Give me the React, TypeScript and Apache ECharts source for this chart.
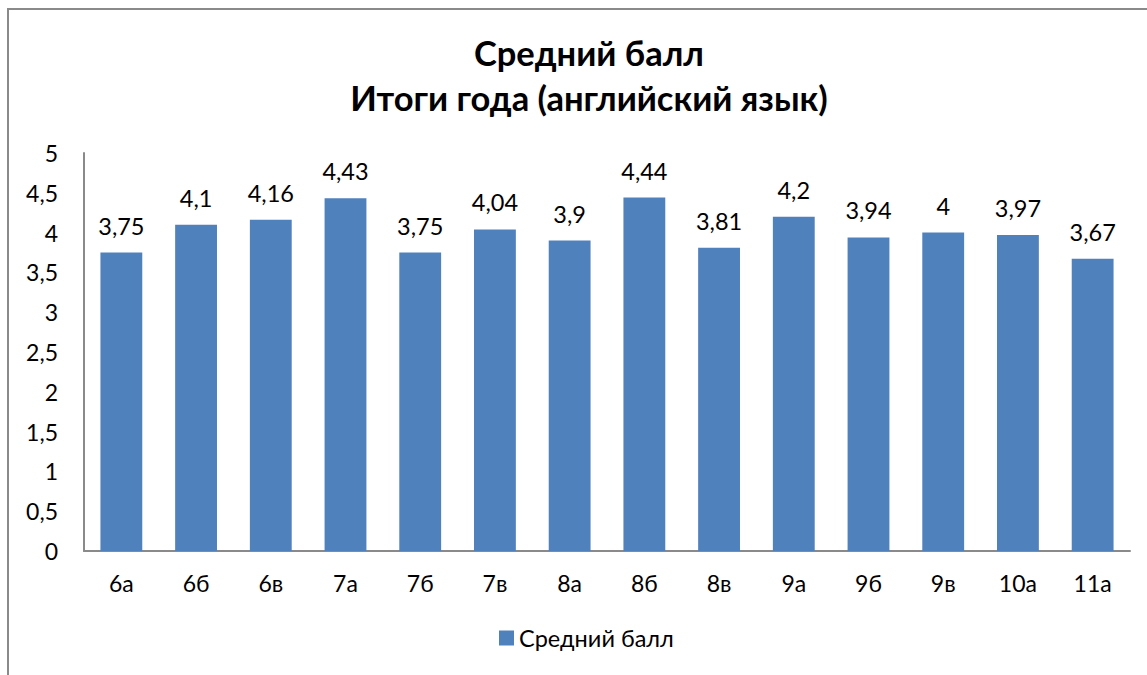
import React, { useEffect, useRef } from "react";
import * as echarts from "echarts";

const categories = ["6а", "6б", "6в", "7а", "7б", "7в", "8а", "8б", "8в", "9а", "9б", "9в", "10а", "11а"];
const values = [3.75, 4.1, 4.16, 4.43, 3.75, 4.04, 3.9, 4.44, 3.81, 4.2, 3.94, 4, 3.97, 3.67];
const seriesName = "Средний балл";
const titleLines = ["Средний балл", "Итоги года (английский язык)"];

const FONT = "Lato, 'Open Sans', 'Noto Sans', sans-serif";
const comma = (v: number) => String(v).replace(".", ",");

export default function App() {
  const ref = useRef<HTMLDivElement>(null);
  useEffect(() => {
    if (!ref.current) return;
    const chart = echarts.init(ref.current, undefined, { renderer: "svg" });
    chart.setOption({
      animation: false,
      backgroundColor: "#ffffff",
      textStyle: { fontFamily: FONT },
      title: {
        text: titleLines.join("\n"),
        left: 584,
        textAlign: "center",
        top: 25,
        textStyle: { fontFamily: FONT, fontSize: 34.5, fontWeight: "bold", color: "#000", lineHeight: 45 },
      },
      graphic: [
        {
          type: "rect",
          silent: true,
          shape: { x: 8, y: 9, width: 1300, height: 800 },
          style: { fill: "none", stroke: "#8a8a8a", lineWidth: 2 },
        },
      ],
      legend: {
        data: [seriesName],
        bottom: 20,
        left: 494,
        itemWidth: 15,
        itemHeight: 15,
        itemGap: 6,
        textStyle: { fontFamily: FONT, fontSize: 23.5, color: "#000" },
        icon: "rect",
      },
      grid: { left: 84, right: 17, top: 153, bottom: 124, containLabel: false },
      xAxis: {
        type: "category",
        data: categories,
        axisLine: { lineStyle: { color: "#8a8a8a", width: 2 } },
        axisTick: { show: false },
        axisLabel: { fontFamily: FONT, fontSize: 23, color: "#000", margin: 20 },
      },
      yAxis: {
        type: "value",
        min: 0,
        max: 5,
        interval: 0.5,
        axisLine: { show: true, lineStyle: { color: "#8a8a8a", width: 2 } },
        axisTick: { show: false },
        splitLine: { show: false },
        axisLabel: { fontFamily: FONT, fontSize: 23, color: "#000", margin: 26, formatter: (v: number) => comma(v) },
      },
      series: [
        {
          name: seriesName,
          type: "bar",
          data: values,
          barWidth: "56%",
          itemStyle: { color: "#4F81BD" },
          label: {
            show: true,
            position: "top",
            distance: 15,
            fontFamily: FONT,
            fontSize: 23.5,
            color: "#000",
            formatter: (p: any) => comma(p.value),
          },
        },
      ],
    });
    return () => chart.dispose();
  }, []);
  return <div ref={ref} style={{ position: "absolute", left: 0, top: 0, width: 1147, height: 675 }} />;
}
